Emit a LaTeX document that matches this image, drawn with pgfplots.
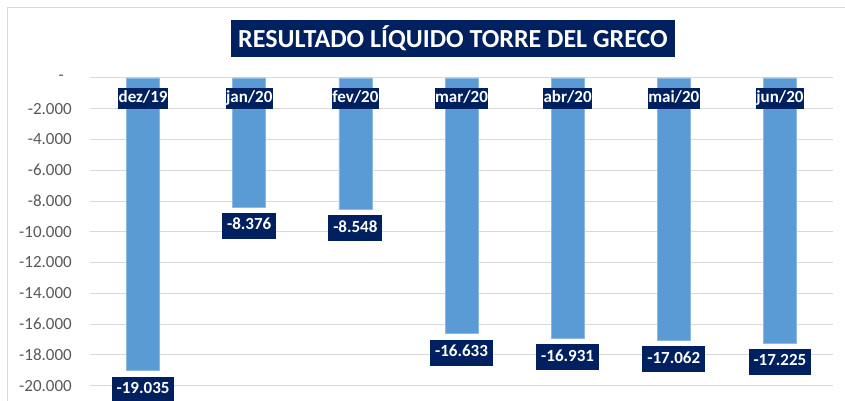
\documentclass[border=0pt]{standalone}
\usepackage{pgfplots}
\pgfplotsset{compat=1.18}
\usepackage{fontspec}
\setmainfont{Carlito}
\definecolor{navy}{HTML}{002060}
\definecolor{barblue}{HTML}{5B9BD5}
\definecolor{gridgray}{HTML}{D9D9D9}
\definecolor{ticktext}{HTML}{595959}
\begin{document}
\begin{tikzpicture}
\path[use as bounding box] (0,0) rectangle (845pt,400pt);
\fill[white] (0,0) rectangle (845pt,400pt);
\draw[color=gridgray, line width=1pt] (7pt,-20pt) rectangle (880pt,392pt);
\begin{axis}[
  at={(90pt,0pt)}, anchor=south west,
  scale only axis, width=743pt, height=322pt,
  ymin=-20940, ymax=0,
  xmin=-0.5, xmax=6.5,
  axis line style={draw=none},
  major tick length=0pt,
  scaled y ticks=false,
  ymajorgrids, grid style={color=gridgray, line width=1pt},
  ytick={-20000,-18000,-16000,-14000,-12000,-10000,-8000,-6000,-4000,-2000,0},
  yticklabels={-20.000,-18.000,-16.000,-14.000,-12.000,-10.000,-8.000,-6.000,-4.000,-2.000,-\hspace*{8pt}},
  yticklabel style={font=\fontsize{17}{20}\selectfont, color=ticktext, anchor=east, inner sep=0pt, xshift=-18pt},
  xtick=\empty,
  ybar, bar width=33pt,
  point meta=explicit symbolic,
  nodes near coords,
  nodes near coords style={font=\fontsize{17}{20}\selectfont\bfseries, text=white, fill=navy, anchor=north, yshift=-5.5pt, inner xsep=5pt, inner ysep=5pt, text height=12pt, text depth=4pt},
  clip=false,
]
\addplot[fill=barblue, draw=barblue!70!white, line width=0.6pt] coordinates {
  (0,-19035) [-19.035]
  (1,-8376) [-8.376]
  (2,-8548) [-8.548]
  (3,-16633) [-16.633]
  (4,-16931) [-16.931]
  (5,-17062) [-17.062]
  (6,-17225) [-17.225]
};
\foreach \i/\lab in {0/dez\slash 19,1/jan\slash 20,2/fev\slash 20,3/mar\slash 20,4/abr\slash 20,5/mai\slash 20,6/jun\slash 20} {
  \edef\temp{\noexpand\node[font=\noexpand\fontsize{17}{20}\noexpand\selectfont\noexpand\bfseries, text=white, fill=navy, anchor=north, yshift=-10pt, inner xsep=0.5pt, inner ysep=2.5pt, text height=12pt, text depth=4pt] at (axis cs:\i,0) {\lab};}
  \temp
}
\end{axis}
\node[fill=navy, text=white, font=\fontsize{26}{30}\selectfont\bfseries, minimum height=37pt, inner xsep=7pt] at (453pt,361.5pt) {RESULTADO LÍQUIDO TORRE DEL GRECO};
\end{tikzpicture}
\end{document}
